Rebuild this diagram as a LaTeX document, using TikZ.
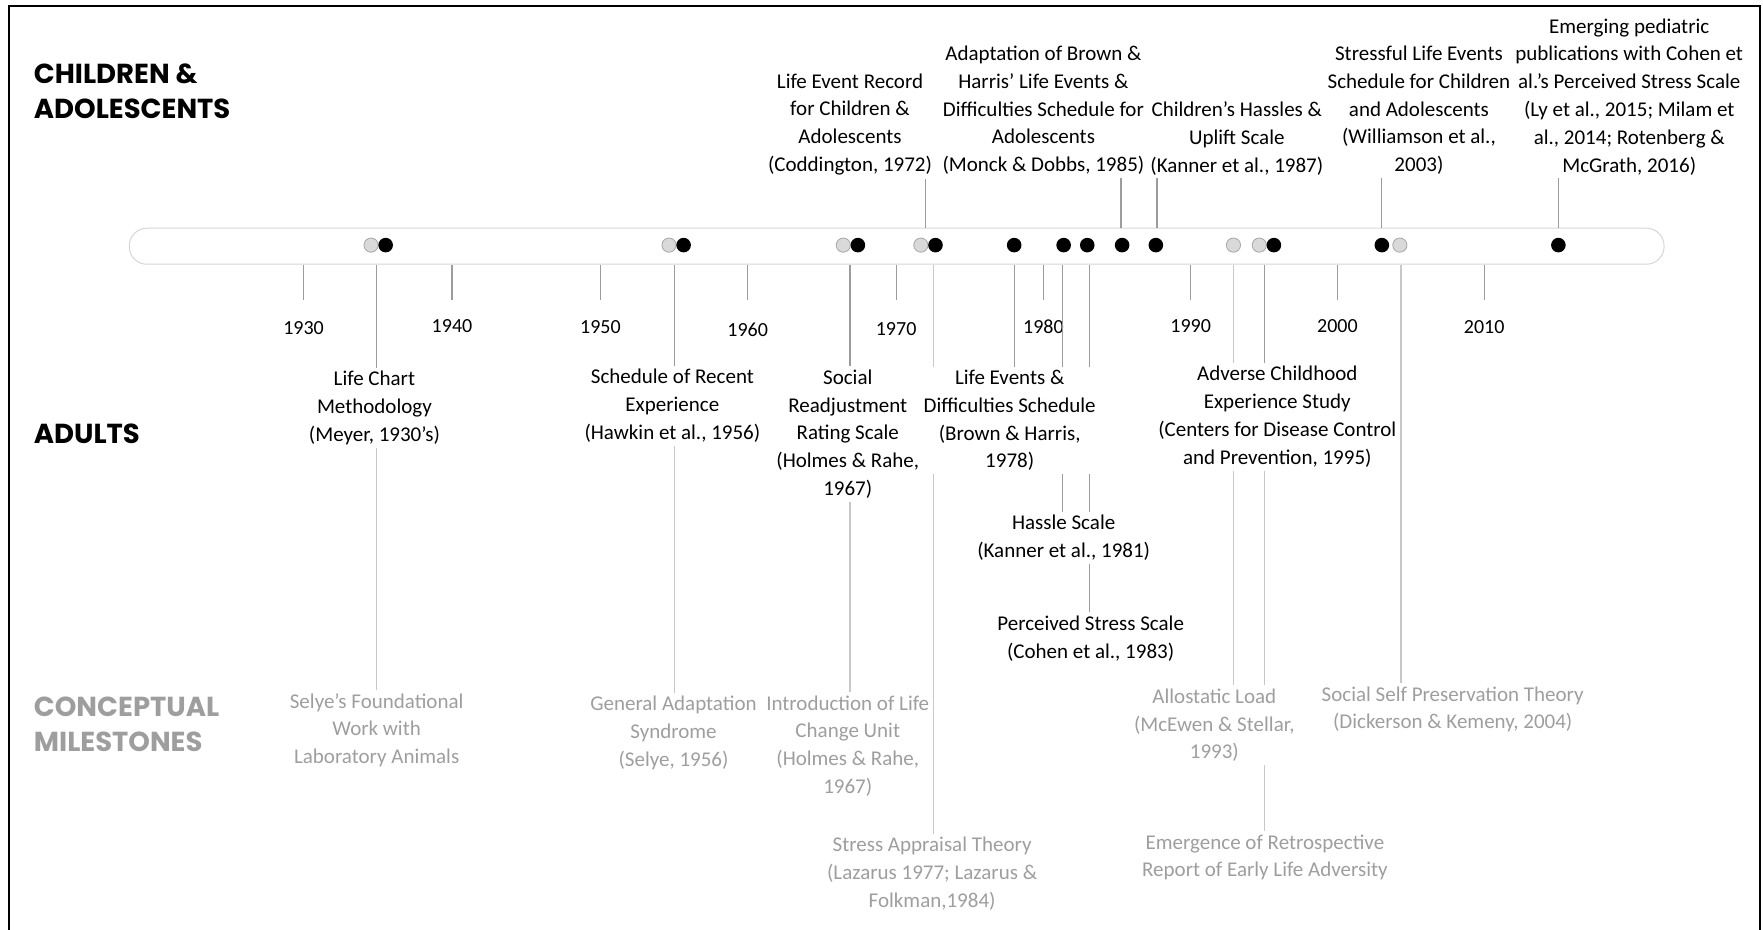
\documentclass[tikz,border=0pt]{standalone}
\usepackage{fontspec}
\setmainfont{Carlito}
\newfontfamily\headfont{Poppins}
\definecolor{midgray}{HTML}{9C9C9C}
\definecolor{lightline}{HTML}{C8C8C8}
\definecolor{txtgray}{HTML}{9E9E9E}
\definecolor{dotgray}{HTML}{D9D9D9}
\definecolor{dotedge}{HTML}{A6A6A6}
\definecolor{barline}{HTML}{D6D6D6}
\begin{document}
\begin{tikzpicture}[x=1.1244pt,y=-1.1244pt,
  lbl/.style={align=center, font=\fontsize{21}{27.8}\selectfont, text=black},
  clbl/.style={lbl, text=txtgray},
  head/.style={anchor=west, align=left, inner sep=0pt, font=\headfont\bfseries\fontsize{27.5}{35}\selectfont},
  yearlbl/.style={font=\fontsize{20}{24}\selectfont},
  conn/.style={draw=midgray, line width=1.1pt},
  lconn/.style={draw=lightline, line width=1.1pt},
  tickline/.style={draw=midgray, line width=1.1pt},
  bdot/.style={circle, fill=black, inner sep=0pt, minimum size=14.6pt},
  gdot/.style={circle, fill=dotgray, draw=dotedge, line width=0.8pt, inner sep=0pt, minimum size=14.2pt},
]
\useasboundingbox (0,0) rectangle (1568,827);
% frame
\draw[line width=2pt] (8,827) -- (8,5) -- (1565,5) -- (1565,827);

% headings
\node[head] (hchild) at (30,81.5) {CHILDREN \&\\ADOLESCENTS};
\node[head] (hadult) at (30,386) {ADULTS};
\node[head, text=txtgray] (hconc) at (30,644.5) {CONCEPTUAL\\MILESTONES};

% timeline bar
\node[draw=barline, fill=white, line width=1pt, rounded corners=17.5pt, inner sep=0pt,
      minimum width=1534.8pt, minimum height=36pt] (bar) at (797.5,219) {};

% years and ticks
\foreach \yr/\xx/\yy in {1930/270/292,1940/402/290,1950/534/291,1960/665/293,1970/797/293,1980/928/291,1990/1059/290,2000/1189.5/290,2010/1320/291}{
  \node[yearlbl] (y\yr) at (\xx,\yy) {\yr};
  \draw[tickline] (y\yr |- bar.south) -- ++(0,31);
}

% stems (x positions of connectors)
\coordinate (s1) at (335,219);
\coordinate (s2) at (600,219);
\coordinate (s3) at (756,219);
\coordinate (s4) at (830,219);
\coordinate (s5) at (902,219);
\coordinate (s6) at (945,219);
\coordinate (s7) at (969,219);
\coordinate (s8) at (1097,219);
\coordinate (s9) at (1125,219);
\coordinate (s10) at (1246,219);
\coordinate (u1) at (823,219);
\coordinate (u2) at (997,219);
\coordinate (u3) at (1029,219);
\coordinate (u4) at (1229,219);
\coordinate (u5) at (1386,219);

% children & adolescents labels
\node[lbl] (LER) at (756,110.5) {Life Event Record\\for Children \&\\Adolescents\\(Coddington, 1972)};
\node[lbl] (ADP) at (928,98) {Adaptation of Brown \&\\Harris' Life Events \&\\Difficulties Schedule for\\Adolescents\\(Monck \& Dobbs, 1985)};
\node[lbl] (CHU) at (1100,123) {Children's Hassles \&\\Uplift Scale\\(Kanner et al., 1987)};
\node[lbl] (SLE) at (1262,98) {Stressful Life Events\\Schedule for Children\\and Adolescents\\(Williamson et al.,\\2003)};
\node[lbl] (EPP) at (1449,86) {Emerging pediatric\\publications with Cohen et\\al.'s Perceived Stress Scale\\(Ly et al., 2015; Milam et\\al., 2014; Rotenberg \&\\McGrath, 2016)};

% adults labels
\node[lbl] (LCM) at (333,363) {Life Chart\\Methodology\\(Meyer, 1930's)};
\node[lbl] (SRE) at (598,361) {Schedule of Recent\\Experience\\(Hawkin et al., 1956)};
\node[lbl] (SRRS) at (754,386) {Social\\Readjustment\\Rating Scale\\(Holmes \& Rahe,\\1967)};
\node[lbl] (LEDS) at (898,374) {Life Events \&\\Difficulties Schedule\\(Brown \& Harris,\\1978)};
\node[lbl] (HS) at (946,478.5) {Hassle Scale\\(Kanner et al., 1981)};
\node[lbl] (PSS) at (970,568) {Perceived Stress Scale\\(Cohen et al., 1983)};
\node[lbl] (ACE) at (1136,370.5) {Adverse Childhood\\Experience Study\\(Centers for Disease Control\\and Prevention, 1995)};

% conceptual labels
\node[clbl] (SFW) at (335,649.5) {Selye's Foundational\\Work with\\Laboratory Animals};
\node[clbl] (GAS) at (599,652) {General Adaptation\\Syndrome\\(Selye, 1956)};
\node[clbl] (LCU) at (754,663.5) {Introduction of Life\\Change Unit\\(Holmes \& Rahe,\\1967)};
\node[clbl] (SAT) at (829,777) {Stress Appraisal Theory\\(Lazarus 1977; Lazarus \&\\Folkman,1984)};
\node[clbl] (AL) at (1080,645) {Allostatic Load\\(McEwen \& Stellar,\\1993)};
\node[clbl] (ERR) at (1125,762.5) {Emergence of Retrospective\\Report of Early Life Adversity};
\node[clbl] (SSP) at (1292,631) {Social Self Preservation Theory\\(Dickerson \& Kemeny, 2004)};

% connectors above the bar
\draw[conn] (u1 |- bar.north) -- (u1 |- LER.south);
\draw[conn] (u2 |- bar.north) -- (u2 |- ADP.south);
\draw[conn] (u3 |- bar.north) -- (u3 |- CHU.south);
\draw[conn] (u4 |- bar.north) -- (u4 |- SLE.south);
\draw[conn] (u5 |- bar.north) -- (u5 |- EPP.south);

% connectors below the bar
\draw[conn] (s1 |- bar.south) -- (s1 |- LCM.north);
\draw[lconn] (s1 |- LCM.south) -- (s1 |- SFW.north);
\draw[conn] (s2 |- bar.south) -- (s2 |- SRE.north);
\draw[lconn] (s2 |- SRE.south) -- (s2 |- GAS.north);
\draw[conn] (s3 |- bar.south) -- (s3 |- SRRS.north);
\draw[lconn] (s3 |- SRRS.south) -- (s3 |- LCU.north);
\draw[lconn] (s4 |- bar.south) -- (s4 |- LEDS.north);
\draw[lconn] (s4 |- LEDS.south) -- (s4 |- SAT.north);
\draw[conn] (s5 |- bar.south) -- (s5 |- LEDS.north);
\draw[conn] (s6 |- bar.south) -- (s6 |- LEDS.north);
\draw[conn] (s6 |- LEDS.south) -- (s6 |- HS.north);
\draw[conn] (s7 |- bar.south) -- (s7 |- LEDS.north);
\draw[conn] (s7 |- LEDS.south) -- (s7 |- HS.north);
\draw[conn] (s7 |- HS.south) -- (s7 |- PSS.north);
\draw[lconn] (s8 |- bar.south) -- (s8 |- ACE.north);
\draw[lconn] (s8 |- ACE.south) -- (s8 |- AL.north);
\draw[conn] (s9 |- bar.south) -- (s9 |- ACE.north);
\draw[lconn] (s9 |- ACE.south) -- (s9 |- AL.north);
\draw[lconn] (s9 |- AL.south) -- (s9 |- ERR.north);
\draw[lconn] (s10 |- bar.south) -- (s10 |- SSP.north);

% dots
\foreach \xx in {330,595,750,819,1097,1120,1245}{
  \node[gdot] (g\xx) at (\xx,218) {};
}
\foreach \xx in {343,608,763,832,902,946,967,998,1028,1133,1229,1386}{
  \node[bdot] (b\xx) at (\xx,218) {};
}
\end{tikzpicture}
\end{document}
